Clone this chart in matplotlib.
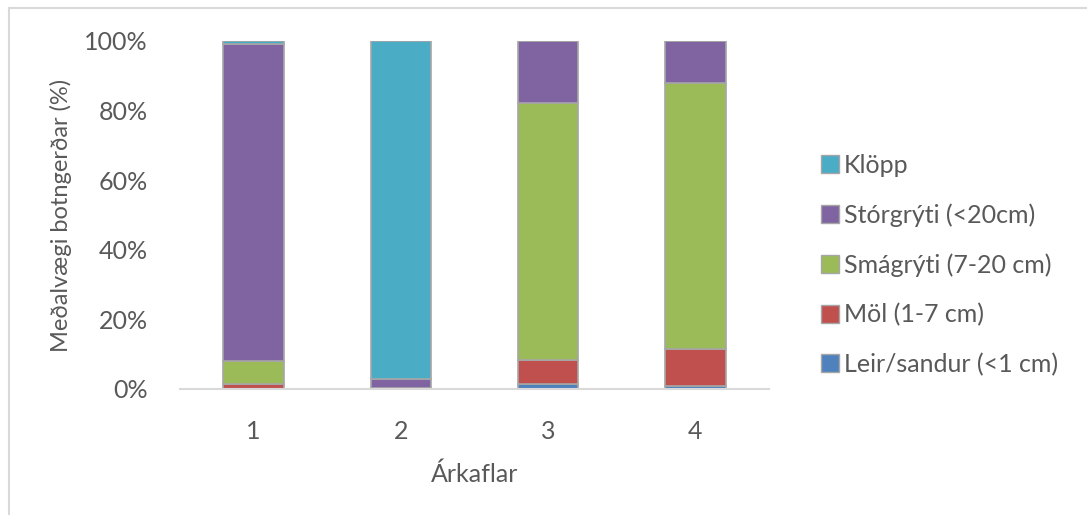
import numpy as np
import matplotlib.pyplot as plt
from matplotlib.lines import Line2D

plt.rcParams['font.family'] = ['Lato', 'DejaVu Sans']

arkaflar = ['1', '2', '3', '4']
leir = [0.0, 0.0, 1.5, 1.0]
mol = [1.5, 0.0, 6.8, 10.5]
smagryti = [6.5, 0.3, 73.9, 76.5]
storgryti = [91.0, 2.7, 17.8, 12.0]
klopp = [1.0, 97.0, 0.0, 0.0]

series = [
    ('Leir/sandur (<1 cm)', leir, '#4F81BD'),
    ('Möl (1-7 cm)', mol, '#C0504D'),
    ('Smágrýti (7-20 cm)', smagryti, '#9BBB59'),
    ('Stórgrýti (<20cm)', storgryti, '#8064A2'),
    ('Klöpp', klopp, '#4BACC6'),
]

txt = '#595959'
fs = 18
fig = plt.figure(figsize=(10.87, 5.15), dpi=100)
ax = fig.add_axes([180 / 1087, 1 - 389 / 515, 589 / 1087, 348 / 515])

x = np.arange(1, len(arkaflar) + 1)
bottom = np.zeros(len(arkaflar))
handles = []
for name, vals, col in series:
    v = np.array(vals) / 100
    ax.bar(x, v, 0.41, bottom=bottom, color=col, edgecolor='#A6A6A6', linewidth=1.2)
    bottom += v
    handles.append(Line2D([], [], marker='s', linestyle='none', markersize=13,
                          markerfacecolor=col, markeredgecolor='#A6A6A6', label=name))

ax.set_xlim(0.5, 4.5)
ax.set_ylim(0, 1)
ax.set_xticks(x)
ax.set_xticklabels(arkaflar)
ax.set_yticks(np.linspace(0, 1, 6))
ax.set_yticklabels([f'{int(t * 100)}%' for t in np.linspace(0, 1, 6)])
ax.tick_params(length=0, labelsize=fs, labelcolor=txt)
ax.tick_params(axis='x', pad=22)
ax.tick_params(axis='y', pad=23)
for s in ['top', 'right', 'left']:
    ax.spines[s].set_visible(False)
ax.spines['bottom'].set_color('#D9D9D9')
ax.spines['bottom'].set_linewidth(1.5)

ax.set_xlabel('Árkaflar', fontsize=fs, color=txt, labelpad=14)
ax.set_ylabel('Meðalvægi botngerðar (%)', fontsize=17, color=txt, labelpad=9)

fig.legend(handles=handles[::-1], loc='center left', bbox_to_anchor=(795 / 1087, 1 - 265 / 515),
           frameon=False, fontsize=fs, labelcolor=txt, labelspacing=1.05,
           handletextpad=0.05, handlelength=1.0)

# light frame along the left and top edges
fig.add_artist(Line2D([9 / 1087, 9 / 1087], [0, 1 - 8 / 515], transform=fig.transFigure,
                      color='#D9D9D9', linewidth=1.5))
fig.add_artist(Line2D([9 / 1087, 1], [1 - 8 / 515, 1 - 8 / 515], transform=fig.transFigure,
                      color='#D9D9D9', linewidth=1.5))

fig.savefig('out.png', dpi=100)
